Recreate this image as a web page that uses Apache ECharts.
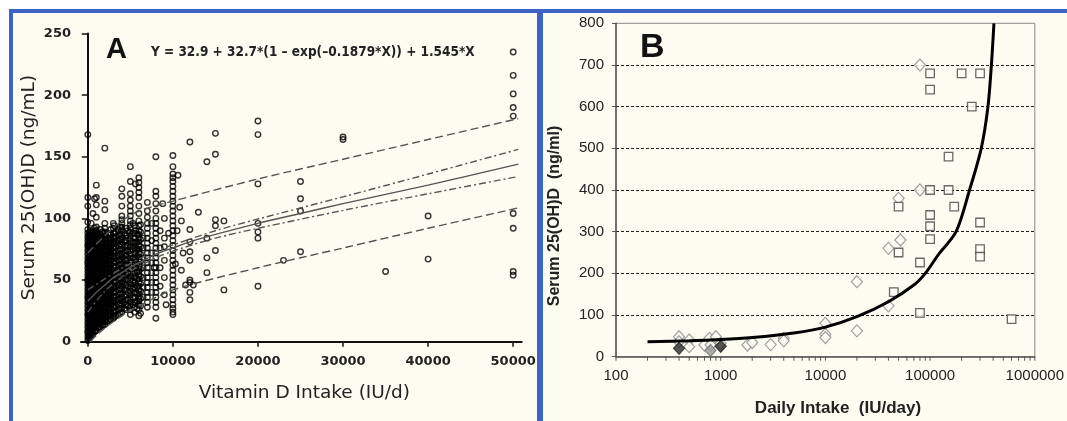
<!DOCTYPE html>
<html>
<head>
<meta charset="utf-8">
<script src="https://cdn.jsdelivr.net/npm/echarts@6/dist/echarts.min.js"></script>
<style>
  html, body { margin: 0; padding: 0; background: #fff; }
  #chart { width: 1067px; height: 421px; }
</style>
</head>
<body>
<div id="chart"></div>
<script>
// ---- panel A: vitamin D intake vs serum 25(OH)D ----
// doses reported by many studies sit on vertical columns
const aDoseColumns = [0, 200, 400, 600, 800, 1000, 1200, 1500, 1800, 2000, 2400, 2700, 3000, 3300, 3600,
  4000, 4300, 4700, 5000, 5300, 5600, 6000, 6500, 7000, 7500, 8000, 8500, 9000, 10000,
  100, 500, 900, 1300, 1700, 2200, 2600, 3800, 5800, 3100, 4500, 5500, 6200];
const aDoseLevels = [
  [1, 4, 7, 9, 12, 15, 18, 21, 23, 26, 29, 32, 35, 37, 40, 43, 46, 49, 51, 54, 57, 60, 63, 65, 68, 71, 74, 77, 79, 82, 85, 88, 91, 97, 110, 117, 168],
  [3, 6, 10, 13, 17, 20, 24, 27, 31, 34, 38, 41, 45, 48, 52, 55, 59, 62, 66, 69, 73, 76, 80, 84, 89],
  [5, 8, 11, 14, 17, 20, 23, 26, 29, 32, 35, 38, 41, 44, 47, 50, 53, 56, 59, 62, 65, 68, 71, 74, 77, 80, 83, 86, 90, 96],
  [6, 10, 13, 17, 20, 24, 27, 31, 34, 38, 41, 45, 48, 52, 55, 59, 62, 66, 69, 73, 76, 80, 83, 87, 104],
  [8, 11, 14, 17, 20, 23, 26, 29, 32, 35, 38, 41, 44, 47, 50, 53, 56, 59, 62, 65, 68, 71, 74, 77, 80, 83, 86, 89, 92, 116],
  [9, 12, 15, 18, 21, 24, 27, 30, 33, 36, 39, 42, 45, 48, 51, 54, 57, 60, 63, 66, 69, 72, 75, 78, 81, 84, 87, 90, 93, 101, 111, 117, 127],
  [11, 15, 18, 22, 25, 29, 32, 36, 39, 43, 46, 50, 53, 57, 60, 64, 67, 71, 74, 78, 81, 85, 88],
  [12, 15, 18, 21, 24, 27, 30, 33, 36, 39, 42, 45, 48, 51, 54, 57, 60, 63, 66, 69, 72, 75, 78, 81, 84, 87, 91],
  [14, 18, 21, 25, 28, 32, 35, 39, 42, 46, 49, 53, 56, 60, 63, 67, 70, 74, 77, 81, 84, 88],
  [14, 17, 20, 23, 26, 29, 32, 35, 38, 41, 44, 47, 50, 53, 56, 59, 62, 65, 68, 71, 74, 77, 80, 83, 86, 89, 92, 96, 107, 114, 157],
  [17, 21, 24, 28, 31, 35, 38, 42, 45, 49, 52, 56, 59, 63, 66, 70, 73, 77, 80, 84, 88],
  [18, 21, 24, 27, 30, 33, 36, 39, 42, 45, 48, 51, 54, 57, 60, 63, 66, 69, 72, 75, 78, 81, 84, 87, 91],
  [19, 22, 25, 28, 31, 34, 37, 40, 43, 46, 49, 52, 55, 58, 61, 64, 67, 70, 73, 76, 79, 82, 85, 88, 92, 96],
  [21, 25, 29, 33, 37, 41, 45, 49, 53, 57, 61, 65, 69, 73, 77, 81, 85, 89],
  [22, 26, 30, 34, 38, 42, 46, 50, 54, 58, 62, 66, 70, 74, 78, 82, 86, 91],
  [24, 27, 30, 33, 36, 39, 42, 45, 48, 51, 54, 57, 60, 63, 66, 69, 72, 75, 78, 81, 84, 87, 90, 93, 96, 99, 102, 110, 118, 124],
  [27, 32, 37, 42, 47, 52, 57, 62, 67, 72, 77, 82, 88],
  [29, 34, 40, 45, 51, 56, 62, 67, 73, 78, 84, 90],
  [22, 26, 29, 32, 35, 38, 41, 44, 47, 50, 53, 56, 59, 62, 65, 68, 71, 74, 77, 80, 83, 86, 89, 92, 95, 98, 102, 106, 110, 115, 120, 130, 142],
  [30, 36, 43, 49, 55, 62, 68, 75, 81, 88, 96],
  [32, 39, 46, 53, 60, 67, 74, 81, 90, 128],
  [21, 26, 30, 33, 36, 39, 42, 45, 48, 51, 54, 57, 60, 63, 66, 69, 72, 75, 78, 81, 84, 87, 90, 94, 98, 104, 110, 117, 121, 125, 129, 133],
  [36, 44, 52, 60, 68, 76, 84],
  [28, 32, 36, 40, 44, 48, 52, 56, 60, 64, 68, 72, 76, 80, 84, 88, 92, 96, 101, 106, 113],
  [40, 48, 56, 64, 72, 82, 96],
  [19, 28, 32, 36, 40, 44, 48, 52, 56, 60, 64, 68, 72, 76, 80, 84, 88, 92, 96, 100, 106, 112, 118, 122, 150],
  [45, 60, 76, 90],
  [38, 52, 66, 77, 84, 100],
  [22, 24, 27, 30, 34, 38, 42, 46, 50, 54, 58, 62, 66, 70, 74, 78, 82, 86, 90, 94, 98, 102, 106, 110, 114, 118, 122, 126, 130, 133, 136, 142, 151],
  [2, 5, 8, 11, 14, 17, 20, 23, 26, 29, 32, 35, 38, 41, 44, 47, 50, 53, 56, 59, 62, 65, 68, 71, 74, 77, 80, 83, 86],
  [7, 10, 13, 16, 19, 22, 25, 28, 31, 34, 37, 40, 43, 46, 49, 52, 55, 58, 61, 64, 67, 70, 73, 76, 79, 82, 85, 88],
  [9, 13, 16, 19, 22, 25, 28, 31, 34, 37, 40, 43, 46, 49, 52, 55, 58, 61, 64, 67, 70, 73, 76, 79, 82, 86, 90],
  [12, 16, 19, 22, 25, 28, 31, 34, 37, 40, 43, 46, 49, 52, 55, 58, 61, 64, 67, 70, 73, 76, 79, 82, 85],
  [13, 16, 19, 22, 25, 28, 31, 34, 37, 40, 43, 46, 49, 52, 55, 58, 61, 64, 67, 70, 73, 76, 79, 82, 85, 89],
  [16, 19, 22, 25, 28, 31, 34, 37, 40, 43, 46, 49, 52, 55, 58, 61, 64, 67, 70, 73, 76, 79, 82, 85],
  [18, 21, 24, 27, 30, 33, 36, 39, 42, 45, 48, 51, 54, 57, 60, 63, 66, 69, 72, 75, 78, 81, 84, 87],
  [23, 27, 31, 35, 39, 43, 47, 51, 55, 59, 63, 67, 71, 75, 79, 83, 87, 93],
  [27, 33, 39, 45, 51, 57, 63, 69, 75, 81, 87],
  [20, 24, 28, 32, 36, 40, 44, 48, 52, 56, 60, 64, 68, 72, 76, 80, 84, 88, 94],
  [26, 30, 34, 38, 42, 46, 50, 54, 58, 62, 66, 70, 74, 78, 82, 86, 92],
  [24, 28, 32, 36, 40, 44, 48, 52, 56, 60, 64, 68, 72, 76, 80, 84, 88, 94],
  [23, 29, 35, 41, 47, 53, 59, 65, 71, 77, 83, 89, 95]
];
const aOutliers = [
  [9200, 30], [9500, 88], [8800, 112], [7800, 60], [10300, 63], [10500, 90], [10600, 135], [10800, 109],
  [11000, 98], [11200, 72], [11000, 58], [11500, 46], [12400, 46],
  [12000, 162], [12000, 91], [12000, 81], [12000, 73], [12000, 66], [12000, 50], [12000, 48], [12000, 40], [12000, 34],
  [13000, 105], [14000, 146], [14000, 84], [14000, 68], [14000, 56],
  [15000, 169], [15000, 152], [15000, 99], [15000, 94], [15000, 74], [16000, 98], [16000, 42],
  [20000, 179], [20000, 168], [20000, 128], [20000, 96], [20000, 89], [20000, 84], [20000, 45],
  [23000, 66], [25000, 130], [25000, 116], [25000, 106], [25000, 73],
  [30000, 166], [30000, 164], [35000, 57], [40000, 102], [40000, 67],
  [50000, 235], [50000, 216], [50000, 201], [50000, 190], [50000, 183], [50000, 104], [50000, 92], [50000, 57], [50000, 54]
];
const aFit = [[0, 33], [1000, 40], [2000, 46], [3000, 52], [4000, 56], [5000, 60.5], [6000, 64], [8000, 71], [10000, 76],
  [12000, 81], [15000, 87], [20000, 96], [25000, 104], [30000, 112], [40000, 127], [50600, 144]];
const aCiUpper = [[0, 42], [2000, 51], [4000, 59.5], [6000, 67], [8000, 73.5], [10000, 78.5], [15000, 90], [20000, 99.5],
  [30000, 117.5], [40000, 136], [50600, 156]];
const aCiLower = [[0, 24], [2000, 41], [4000, 52.5], [6000, 61], [8000, 68], [10000, 73.5], [15000, 84], [20000, 92],
  [30000, 106.5], [40000, 120], [50600, 134]];
const aPiUpper = [[0, 72], [2000, 86], [4000, 98], [6000, 106], [10000, 114], [20000, 132], [30000, 148], [40000, 164], [50600, 181]];
const aPiLower = [[300, 0], [1000, 5], [2000, 11], [4000, 21], [6000, 29], [10000, 42], [20000, 60], [30000, 76], [40000, 92], [50600, 108.5]];
const aTicksX = [0, 10000, 20000, 30000, 40000, 50000];
const aEquation = "Y = 32.9 + 32.7*(1 \u2013 exp(\u20130.1879*X)) + 1.545*X";

// ---- panel B: daily intake (log) vs serum 25(OH)D ----
const bDiamonds = [[400, 48], [400, 36], [500, 40], [500, 24], [700, 28], [780, 44], [900, 48], [800, 28], [1000, 32],
  [1800, 28], [2000, 34], [3000, 29], [4000, 44], [4000, 38], [10000, 80], [10000, 54], [10000, 46], [20000, 62],
  [20000, 180], [40000, 122], [40000, 260], [52000, 280], [50000, 380], [80000, 400], [80000, 700]];
const bDarkDiamonds = [[400, 20], [1000, 25]];
const bGreyDiamonds = [[800, 15]];
const bSquares = [[45000, 155], [50000, 250], [50000, 360], [80000, 105], [80000, 226], [100000, 282], [100000, 313],
  [100000, 340], [100000, 400], [100000, 641], [100000, 680], [150000, 400], [150000, 480], [170000, 360],
  [200000, 680], [250000, 600], [300000, 680], [300000, 322], [300000, 258], [300000, 240], [600000, 90]];
const bCurve = [[200, 36], [500, 38], [1000, 41], [2000, 46], [5000, 57], [10000, 71], [20000, 96], [40000, 132],
  [70000, 172], [90000, 200], [120000, 245], [177000, 300], [238000, 400], [308000, 500], [357000, 600],
  [385000, 700], [407000, 800]];
const bLabelsX = [100, 1000, 10000, 100000, 1000000];
const bTicksX = [100, 200, 300, 400, 500, 600, 700, 800, 900, 1000, 2000, 3000, 4000, 5000, 6000, 7000, 8000, 9000,
  10000, 20000, 30000, 40000, 50000, 60000, 70000, 80000, 90000, 100000, 200000, 300000, 400000, 500000, 600000,
  700000, 800000, 900000, 1000000];

const SANS_A = "'DejaVu Sans', sans-serif";
const SANS_B = "'Liberation Sans', Arial, sans-serif";
const CREAM = "#fdfcf1";
const FRAME = "#3d64c4";

const aPoints = aDoseColumns
  .flatMap((x, i) => aDoseLevels[i].map(y => [x, y]))
  .concat(aOutliers);

function aLine(data, type) {
  return {
    type: "line", xAxisIndex: 0, yAxisIndex: 0, data,
    showSymbol: false, smooth: 0.3, silent: true, z: 3,
    lineStyle: { color: "#555", width: 1.4, type },
  };
}

// small downward marks on the log axis at every 1..9 x decade
function renderLogTick(params, api) {
  const p = api.coord([api.value(0), api.value(1)]);
  return {
    type: "line",
    shape: { x1: p[0], y1: p[1], x2: p[0], y2: p[1] + 4 },
    style: { stroke: "#555", lineWidth: 1 },
  };
}

const chart = echarts.init(document.getElementById("chart"));
chart.setOption({
  animation: false,
  backgroundColor: "#fff",
  graphic: [
    { type: "rect", z: -10, shape: { x: 11, y: 11, width: 528, height: 430 },
      style: { fill: CREAM, stroke: FRAME, lineWidth: 4 } },
    { type: "rect", z: -10, shape: { x: 541, y: 11, width: 534, height: 430 },
      style: { fill: CREAM, stroke: FRAME, lineWidth: 4 } },
    { type: "text", x: 106, y: 50, z: 10,
      style: { text: "A", font: "bold 29px " + SANS_B, fill: "#111", textVerticalAlign: "middle" } },
    { type: "text", x: 151, y: 52, z: 10,
      style: { text: aEquation, font: "bold 13.5px 'DejaVu Sans Condensed', 'Liberation Sans Narrow', sans-serif",
        fill: "#222", textVerticalAlign: "middle" } },
    { type: "text", x: 640, y: 48, z: 10,
      style: { text: "B", font: "bold 34px " + SANS_B, fill: "#111", textVerticalAlign: "middle" } },
    { type: "text", x: 555, y: 216, rotation: Math.PI / 2, z: 10,
      style: { text: "Serum 25(OH)D  (ng/ml)", font: "bold 16px " + SANS_B, fill: "#222",
        textAlign: "center", textVerticalAlign: "middle" } },
    { type: "text", x: 838, y: 408, z: 10,
      style: { text: "Daily Intake  (IU/day)", font: "bold 17px " + SANS_B, fill: "#222",
        textAlign: "center", textVerticalAlign: "middle" } },
  ],
  grid: [
    { left: 81, top: 33.5, width: 440.7, height: 308.2 },
    { left: 616, top: 23.3, width: 425, height: 333.4, show: true, borderColor: "#8a8a8a", borderWidth: 1, backgroundColor: "transparent" },
  ],
  xAxis: [
    {
      gridIndex: 0, type: "value", min: -800, max: 51000,
      axisLine: { onZero: false, lineStyle: { color: "#111", width: 2 } },
      axisTick: { customValues: aTicksX, length: 5, lineStyle: { color: "#111", width: 1.5 } },
      axisLabel: { customValues: aTicksX, formatter: v => String(v), fontFamily: SANS_A, fontSize: 13,
        fontWeight: "bold", color: "#222", margin: 13 },
      splitLine: { show: false },
      name: "Vitamin D Intake (IU/d)", nameLocation: "middle", nameGap: 42,
      nameTextStyle: { fontFamily: SANS_A, fontSize: 18.5, color: "#222", padding: [0, 0, 0, 6] },
    },
    {
      gridIndex: 1, type: "log", logBase: 10, min: 100, max: 1000000,
      axisLine: { onZero: false, lineStyle: { color: "#555", width: 1.5 } },
      axisTick: { show: false },
      axisLabel: { customValues: bLabelsX, formatter: v => String(Math.round(v)), fontFamily: SANS_B,
        fontSize: 15, color: "#222", margin: 12 },
      splitLine: { show: false },
    },
  ],
  yAxis: [
    {
      gridIndex: 0, type: "value", min: 0, max: 250, interval: 50,
      axisLine: { show: true, lineStyle: { color: "#111", width: 2 } },
      axisTick: { show: true, length: 6, lineStyle: { color: "#111", width: 1.5 } },
      axisLabel: { fontFamily: SANS_A, fontSize: 13, fontWeight: "bold", color: "#222", margin: 10 },
      splitLine: { show: false },
      name: "Serum 25(OH)D (ng/mL)", nameLocation: "middle", nameGap: 42, nameRotate: 90,
      nameTextStyle: { fontFamily: SANS_A, fontSize: 18.5, color: "#222" },
    },
    {
      gridIndex: 1, type: "value", min: 0, max: 800, interval: 100,
      axisLine: { show: true, lineStyle: { color: "#555", width: 1.5 } },
      axisTick: { show: true, length: 4, lineStyle: { color: "#555" } },
      axisLabel: { fontFamily: SANS_B, fontSize: 15, color: "#222", margin: 12 },
      splitLine: { show: true, showMinLine: false, showMaxLine: false,
        lineStyle: { color: "#222", type: [3, 2], width: 1 } },
    },
  ],
  series: [
    {
      type: "scatter", xAxisIndex: 0, yAxisIndex: 0, data: aPoints, silent: true, z: 2,
      symbol: "circle", symbolSize: 5.5,
      itemStyle: { color: "rgba(0,0,0,0)", borderColor: "#000", borderWidth: 1.4 },
    },
    aLine(aPiUpper, [8, 4]),
    aLine(aPiLower, [8, 4]),
    aLine(aCiUpper, [7, 3, 2, 3]),
    aLine(aCiLower, [7, 3, 2, 3]),
    aLine(aFit, "solid"),
    {
      type: "custom", xAxisIndex: 1, yAxisIndex: 1, data: bTicksX.map(v => [v, 0]),
      renderItem: renderLogTick, clip: false, silent: true, z: 5,
    },
    {
      type: "scatter", xAxisIndex: 1, yAxisIndex: 1, data: bDiamonds, silent: true, z: 2,
      symbol: "diamond", symbolSize: [11, 12],
      itemStyle: { color: "#fffef6", borderColor: "#888", borderWidth: 1.2 },
    },
    {
      type: "scatter", xAxisIndex: 1, yAxisIndex: 1, data: bGreyDiamonds, silent: true, z: 2,
      symbol: "diamond", symbolSize: [11, 12],
      itemStyle: { color: "#9a9a9a", borderColor: "#777", borderWidth: 1.2 },
    },
    {
      type: "scatter", xAxisIndex: 1, yAxisIndex: 1, data: bDarkDiamonds, silent: true, z: 2,
      symbol: "diamond", symbolSize: [11, 12],
      itemStyle: { color: "#2a2a2a", borderColor: "#222", borderWidth: 1.2 },
    },
    {
      type: "scatter", xAxisIndex: 1, yAxisIndex: 1, data: bSquares, silent: true, z: 3,
      symbol: "rect", symbolSize: 8.5,
      itemStyle: { color: "#fffef6", borderColor: "#444", borderWidth: 1.3 },
    },
    {
      type: "line", xAxisIndex: 1, yAxisIndex: 1, data: bCurve, silent: true, z: 4,
      showSymbol: false, smooth: 0.3,
      lineStyle: { color: "#000", width: 3 },
    },
  ],
});
</script>
</body>
</html>
